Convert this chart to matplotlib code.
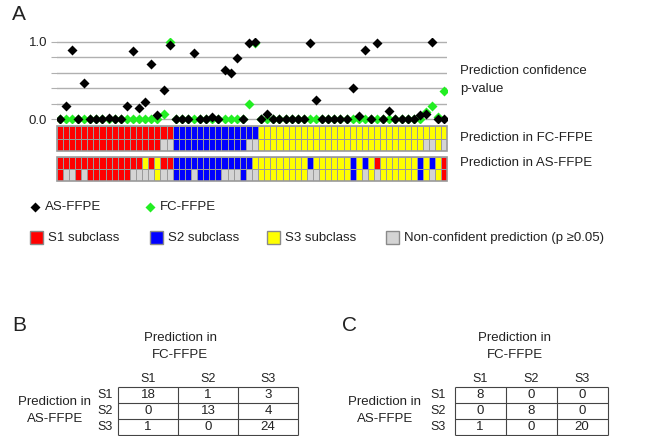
import numpy as np
import matplotlib
matplotlib.use("Agg")
import matplotlib.pyplot as plt
from matplotlib.colors import ListedColormap
from matplotlib.patches import Rectangle

plt.rcParams['font.family'] = ['Liberation Sans', 'DejaVu Sans']

# prediction confidence p-values, one per sample (64 samples)
as_pval = [0, 0.17, 0.89, 0, 0.46, 0, 0, 0, 0.01, 0, 0, 0.17, 0.88, 0.14, 0.22, 0.71, 0.05, 0.38, 0.96,
           0, 0, 0, 0.85, 0, 0, 0.02, 0, 0.64, 0.60, 0.79, 0, 0.98, 1.0,
           0, 0.07, 0, 0, 0, 0, 0, 0, 0.98, 0.25, 0, 0, 0, 0, 0, 0.40, 0.04, 0.89, 0, 0.99,
           0, 0.10, 0, 0, 0, 0, 0.05, 0.065, 1.0, 0, 0]
fc_pval = [0, 0, 0, 0, 0, 0, 0, 0, 0, 0, 0, 0, 0, 0, 0, 0, 0, 0.06, 1.0,
           0, 0, 0, 0, 0, 0, 0, 0, 0, 0, 0, 0, 0.19, 0.99,
           0, 0, 0, 0, 0, 0, 0, 0, 0, 0, 0, 0, 0, 0, 0, 0, 0, 0, 0, 0,
           0, 0, 0, 0, 0, 0, 0, 0.087, 0.17, 0.03, 0.36]

# subclass calls: 1=S1, 2=S2, 3=S3, 0=non-confident
fc_call = "1111111111111111111" "22222222222222" "3333333333333333333333333333333"
fc_conf = "11111111111111111" "00" "222222222222" "00" "333333333333333333333333333" "00" "3" "0"
as_call = "11111111111111" "3" "1" "3" "11" "2222222222222" "3" "33333333" "2" "333333" "2" "3" "2" "3" "1" "333333" "2" "3" "2" "3" "1"
as_conf = "1" "00" "1" "0" "1111111" "0000" "3" "00" "222" "0" "2222" "000" "2" "00" "33333333" "00" "33333" "2" "3" "0" "3" "0" "333333" "2" "3" "0" "3" "1"

classes = ["S1", "S2", "S3"]
tab_b = [[18, 1, 3], [0, 13, 4], [1, 0, 24]]
tab_c = [[8, 0, 0], [0, 8, 0], [1, 0, 20]]

W, H = 670, 436
fig = plt.figure(figsize=(W / 100, H / 100), dpi=100)


def px_axes(x0, y0, x1, y1):
    return fig.add_axes([x0 / W, 1 - y1 / H, (x1 - x0) / W, (y1 - y0) / H])


txt = '#222222'
green = '#22ee22'
cell_cols = ['#d4d4d4', '#ff0000', '#0000ff', '#ffff00']
cmap = ListedColormap(cell_cols)

# overlay in pixel coordinates for labels / legend
ov = px_axes(0, 0, W, H)
ov.set_xlim(0, W)
ov.set_ylim(H, 0)
ov.axis('off')

# --- panel A scatter
ax = px_axes(56.7, 37.9, 447.3, 122.9)
x = np.arange(len(as_pval))
ax.plot(x, fc_pval, 'D', color=green, ms=4.6, mec='none', zorder=3)
ax.plot(x, as_pval, 'D', color='black', ms=4.6, mec='none', zorder=4)
ax.set_xlim(-0.5, len(as_pval) - 0.5)
ax.set_ylim(-0.05, 1.05)
ax.set_yticks([0, 0.2, 0.4, 0.6, 0.8, 1.0])
ax.set_yticklabels(['0.0', '', '', '', '', '1.0'])
ax.set_xticks([])
ax.yaxis.grid(True, color='#b0b0b0', lw=1)
ax.tick_params(axis='y', length=4, color='#b0b0b0', labelsize=9.5, labelcolor=txt, pad=3)
for s in ax.spines.values():
    s.set_visible(False)
ax.set_facecolor('none')

# --- heatmaps
def heat(y0, y1, top, bottom):
    h = px_axes(56.7, y0, 447.3, y1)
    arr = np.array([[int(c) for c in top], [int(c) for c in bottom]])
    h.pcolormesh(np.arange(arr.shape[1] + 1) - 0.5, [0, 1, 2], arr, cmap=cmap,
                 vmin=-0.5, vmax=3.5, edgecolors='#9a9a9a', linewidth=0.6)
    h.set_ylim(2, 0)
    h.set_xlim(-0.5, arr.shape[1] - 0.5)
    h.axis('off')
    h.add_patch(Rectangle((-0.5, 0), arr.shape[1], 2, fill=False, ec='#9a9a9a', lw=1.2, clip_on=False))


heat(126.5, 151, fc_call, fc_conf)
heat(156.5, 181, as_call, as_conf)

fs = 9.5
ov.text(460, 71, "Prediction confidence", fontsize=fs, color=txt, va='center')
ov.text(460, 89, "p-value", fontsize=fs, color=txt, va='center')
ov.text(460, 138, "Prediction in FC-FFPE", fontsize=fs, color=txt, va='center')
ov.text(460, 163, "Prediction in AS-FFPE", fontsize=fs, color=txt, va='center')

# legend
ov.plot([35], [207], 'D', color='black', ms=5.5, mec='none')
ov.text(45, 207, "AS-FFPE", fontsize=fs, color=txt, va='center')
ov.plot([150], [207], 'D', color=green, ms=5.5, mec='none')
ov.text(160, 207, "FC-FFPE", fontsize=fs, color=txt, va='center')
leg = [(30, 'S1 subclass', cell_cols[1]), (150, 'S2 subclass', cell_cols[2]),
       (267, 'S3 subclass', cell_cols[3]), (386, 'Non-confident prediction (p \u22650.05)', cell_cols[0])]
for lx, lab, col in leg:
    ov.add_patch(Rectangle((lx, 231), 13, 13, fc=col, ec='#8a8a8a', lw=1))
    ov.text(lx + 18, 238, lab, fontsize=fs, color=txt, va='center')

ov.text(12, 14, "A", fontsize=15, color=txt, va='center', ha='left')
ov.text(12, 325, "B", fontsize=15, color=txt, va='center', ha='left')
ov.text(342, 325, "C", fontsize=15, color=txt, va='center', ha='left')


# --- confusion tables
def table(x0, x1, y0, y1, vals, hx, rx, lab_x):
    t = px_axes(x0, y0, x1, y1)
    n = len(vals)
    t.set_xlim(0, n)
    t.set_ylim(n, 0)
    t.axis('off')
    t.hlines(range(n + 1), 0, n, color='#444444', lw=0.8, clip_on=False)
    t.vlines(range(n + 1), 0, n, color='#444444', lw=0.8, clip_on=False)
    for i in range(n):
        t.text(i + 0.5, -0.5, classes[i], ha='center', va='center', fontsize=9, color=txt)
        ov.text(lab_x, y0 + (y1 - y0) * (i + 0.5) / n, classes[i], ha='center', va='center',
                fontsize=9, color=txt)
        for j in range(n):
            t.text(j + 0.5, i + 0.5, str(vals[i][j]), ha='center', va='center', fontsize=9.5, color=txt)
    ov.text(hx, 338, "Prediction in", fontsize=fs, color=txt, ha='center', va='center')
    ov.text(hx, 355, "FC-FFPE", fontsize=fs, color=txt, ha='center', va='center')
    ov.text(rx, 402, "Prediction in", fontsize=fs, color=txt, ha='center', va='center')
    ov.text(rx, 419, "AS-FFPE", fontsize=fs, color=txt, ha='center', va='center')


table(118, 298, 387, 435, tab_b, 180, 55, 105)
table(454.5, 607.5, 387, 435, tab_c, 515, 385, 438)

fig.savefig("out.png", dpi=100)
